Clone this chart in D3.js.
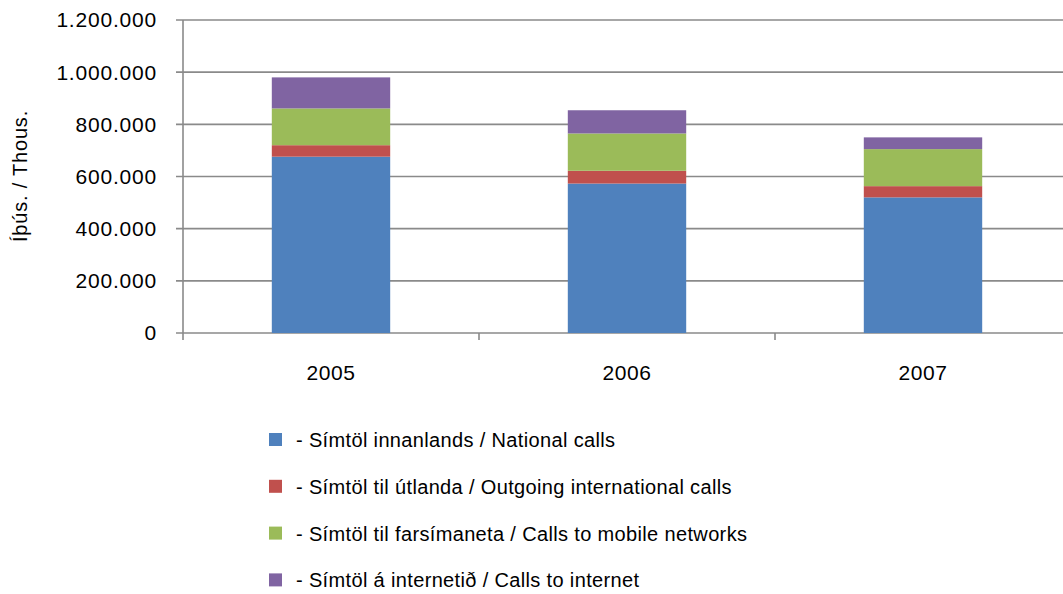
<!DOCTYPE html>
<html>
<head>
<meta charset="utf-8">
<script src="https://cdn.jsdelivr.net/npm/d3@7/dist/d3.min.js"></script>
<style>
  body { margin: 0; background: #fff; }
  svg { display: block; font-family: "Liberation Sans", "DejaVu Sans", sans-serif; }
</style>
</head>
<body>
<div id="chart"></div>
<script>
// Data
const years = ['2005', '2006', '2007'];
const national = [676000, 573000, 520000];
const outgoing = [44000, 49000, 43000];
const mobile = [141000, 143000, 142000];
const internet = [119000, 89000, 45000];
const yTicks = [0, 200000, 400000, 600000, 800000, 1000000, 1200000];

const seriesNames = [
    '- Símtöl innanlands / National calls',
    '- Símtöl til útlanda / Outgoing international calls',
    '- Símtöl til farsímaneta / Calls to mobile networks',
    '- Símtöl á internetið / Calls to internet'
];
const seriesColors = ['#4F81BD', '#C0504D', '#9BBB59', '#8064A2'];
const seriesKeys = ['national', 'outgoing', 'mobile', 'internet'];

const width = 1063;
const height = 594;
const margin = {top: 20, left: 183, bottom: 261};
const plotWidth = 888;
const plotHeight = height - margin.top - margin.bottom;

const rows = years.map((y, i) => ({
    year: y,
    national: national[i],
    outgoing: outgoing[i],
    mobile: mobile[i],
    internet: internet[i]
}));
const stacked = d3.stack().keys(seriesKeys)(rows);

const svg = d3.select('#chart')
    .append('svg')
    .attr('width', width)
    .attr('height', height);

const x = d3.scaleBand()
    .domain(years)
    .range([0, plotWidth])
    .paddingInner(0.6)
    .paddingOuter(0.3);

const y = d3.scaleLinear()
    .domain([0, 1200000])
    .range([plotHeight, 0]);

const fmt = v => d3.format(',')(v).replace(/,/g, '.');

const g = svg.append('g')
    .attr('transform', `translate(${margin.left},${margin.top})`);

// Gridlines
g.selectAll('.grid')
    .data(yTicks)
    .join('line')
    .attr('x1', -7)
    .attr('x2', plotWidth)
    .attr('y1', d => y(d))
    .attr('y2', d => y(d))
    .attr('stroke', '#8a8a8a')
    .attr('stroke-width', 1.6);

// Bars
g.selectAll('.series')
    .data(stacked)
    .join('g')
    .attr('fill', (d, i) => seriesColors[i])
    .selectAll('rect')
    .data(d => d)
    .join('rect')
    .attr('x', d => x(d.data.year))
    .attr('y', d => y(d[1]))
    .attr('width', x.bandwidth())
    .attr('height', d => y(d[0]) - y(d[1]));

// Y axis line
g.append('line')
    .attr('x1', 0).attr('x2', 0)
    .attr('y1', 0).attr('y2', plotHeight)
    .attr('stroke', '#8a8a8a')
    .attr('stroke-width', 1.6);

// Y tick labels
g.selectAll('.ylab')
    .data(yTicks)
    .join('text')
    .attr('x', -26)
    .attr('y', d => y(d))
    .attr('dy', '0.35em')
    .attr('text-anchor', 'end')
    .attr('font-size', 21)
    .attr('letter-spacing', 0.8)
    .attr('fill', '#000')
    .text(d => fmt(d));

// X axis ticks at band boundaries
const step = x.step();
g.selectAll('.xtick')
    .data(d3.range(years.length + 1))
    .join('line')
    .attr('x1', i => i * step)
    .attr('x2', i => i * step)
    .attr('y1', plotHeight)
    .attr('y2', plotHeight + 7)
    .attr('stroke', '#8a8a8a')
    .attr('stroke-width', 1.6);

g.selectAll('.xlab')
    .data(years)
    .join('text')
    .attr('x', d => x(d) + x.bandwidth() / 2)
    .attr('y', plotHeight + 47)
    .attr('text-anchor', 'middle')
    .attr('font-size', 21)
    .attr('letter-spacing', 0.6)
    .text(d => d);

// Y axis title
svg.append('text')
    .attr('transform', `translate(27,176) rotate(-90)`)
    .attr('text-anchor', 'middle')
    .attr('font-size', 20)
    .attr('letter-spacing', 0.8)
    .text('Íþús. / Thous.');

// Legend
const legend = svg.append('g')
    .attr('transform', 'translate(269,433)');

const item = legend.selectAll('g')
    .data(seriesNames)
    .join('g')
    .attr('transform', (d, i) => `translate(0,${i * 46.8})`);

item.append('rect')
    .attr('width', 13)
    .attr('height', 13)
    .attr('fill', (d, i) => seriesColors[i]);

item.append('text')
    .attr('x', 27)
    .attr('y', 7)
    .attr('dy', '0.35em')
    .attr('font-size', 20)
    .attr('letter-spacing', 0.35)
    .text(d => d);
</script>
</body>
</html>
